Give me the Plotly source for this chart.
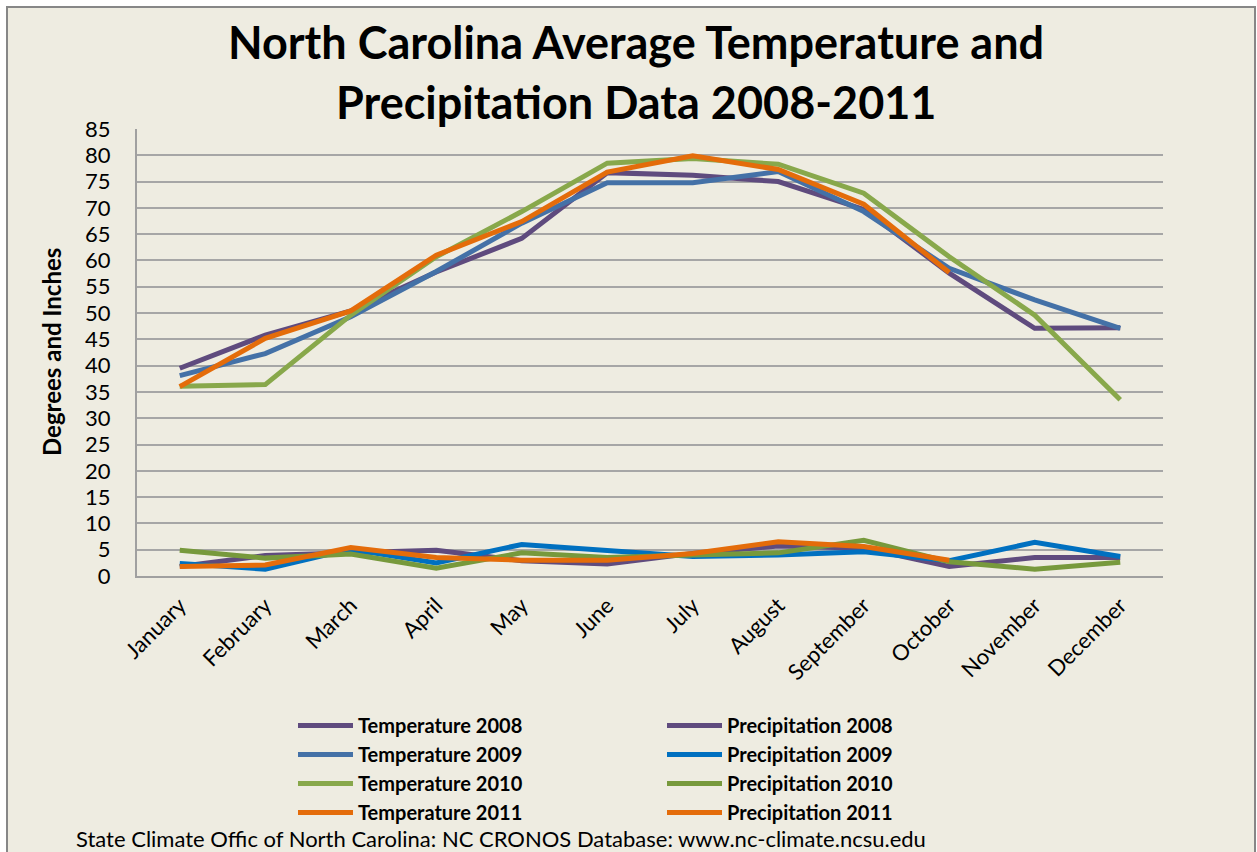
import plotly.graph_objects as go

months = ["January", "February", "March", "April", "May", "June", "July",
          "August", "September", "October", "November", "December"]

temp_2008 = [39.5, 45.8, 50.4, 57.8, 64.2, 76.7, 76.2, 75.0, 69.7, 57.6, 47.1, 47.2]
temp_2009 = [38.1, 42.3, 49.3, 57.9, 67.1, 74.8, 74.8, 76.9, 69.3, 58.5, 52.5, 47.1]
temp_2010 = [36.1, 36.4, 49.6, 60.7, 69.3, 78.5, 79.4, 78.3, 72.8, 60.7, 49.6, 33.5]
temp_2011 = [36.0, 45.2, 50.4, 61.0, 67.4, 76.8, 79.9, 77.3, 70.7, 57.7, None, None]

precip_2008 = [1.8, 3.9, 4.4, 4.9, 2.9, 2.3, 4.3, 5.7, 5.3, 1.8, 3.5, 3.5]
precip_2009 = [2.4, 1.3, 5.1, 2.5, 6.0, 4.75, 3.7, 4.0, 4.6, 2.9, 6.4, 3.7]
precip_2010 = [4.9, 3.4, 4.2, 1.5, 4.4, 3.5, 4.0, 4.4, 6.8, 2.7, 1.3, 2.6]
precip_2011 = [1.8, 2.1, 5.4, 3.5, 3.0, 3.0, 4.3, 6.5, 5.6, 3.0, None, None]

y_ticks = list(range(0, 90, 5))

series = [
    ("Temperature 2008", temp_2008, "#5F4B7E"),
    ("Precipitation 2008", precip_2008, "#5F4B7E"),
    ("Temperature 2009", temp_2009, "#4471A7"),
    ("Precipitation 2009", precip_2009, "#0070C0"),
    ("Temperature 2010", temp_2010, "#88A84B"),
    ("Precipitation 2010", precip_2010, "#77993C"),
    ("Temperature 2011", temp_2011, "#E46C0A"),
    ("Precipitation 2011", precip_2011, "#E46C0A"),
]

FONT = "Lato"
BEIGE = "#EEECE1"

fig = go.Figure()
for i, (name, vals, col) in enumerate(series):
    fig.add_trace(go.Scatter(
        x=months, y=vals, name=name, mode="lines",
        line=dict(color=col, width=5),
        connectgaps=False, legendrank=i + 1,
    ))

W, H = 1257, 852
L, R, T, B = 137, 1163, 129, 576
pw, ph = R - L, B - T

def px(x):
    return (x - L) / pw

def py(y):
    return (B - y) / ph

fig.update_layout(
    width=W, height=H,
    margin=dict(l=L, r=W - R, t=T, b=H - B),
    paper_bgcolor="white",
    plot_bgcolor="rgba(0,0,0,0)",
    font=dict(family=FONT, color="black"),
    showlegend=True,
    legend=dict(
        orientation="h",
        x=px(293), y=py(706), xanchor="left", yanchor="top",
        entrywidth=299, entrywidthmode="pixels",
        itemwidth=55,
        font=dict(family=FONT, size=20, color="black", weight="bold"),
        bgcolor="rgba(0,0,0,0)",
        tracegroupgap=0,
        traceorder="normal",
    ),
    xaxis=dict(
        type="category", range=[-0.5, 11.5],
        tickangle=-45, tickfont=dict(family=FONT, size=22, color="black"),
        ticklabelstandoff=6,
        showgrid=False, showline=True, linecolor="#A0A0A0", linewidth=2,
        ticks="", zeroline=False,
    ),
    yaxis=dict(
        range=[0, 85], tickvals=y_ticks,
        tickfont=dict(family=FONT, size=22, color="black"),
        ticklabelstandoff=20,
        showgrid=True, gridcolor="#A6A6A6", gridwidth=2,
        showline=True, linecolor="#A0A0A0", linewidth=2,
        zeroline=False, ticks="",
    ),
    shapes=[
        dict(type="rect", xref="paper", yref="paper", layer="below",
             x0=px(7), x1=px(1255), y0=py(880), y1=py(7),
             fillcolor=BEIGE, line=dict(color="#878787", width=2)),
    ],
    annotations=[
        dict(text="<b>North Carolina Average Temperature and</b>",
             xref="paper", yref="paper", x=px(636), y=py(42),
             xanchor="center", yanchor="middle", showarrow=False,
             font=dict(family=FONT, size=45, color="black")),
        dict(text="<b>Precipitation Data 2008-2011</b>",
             xref="paper", yref="paper", x=px(636), y=py(102),
             xanchor="center", yanchor="middle", showarrow=False,
             font=dict(family=FONT, size=45, color="black")),
        dict(text="<b>Degrees and Inches</b>",
             xref="paper", yref="paper", x=px(51), y=py(352),
             xanchor="center", yanchor="middle", showarrow=False, textangle=-90,
             font=dict(family=FONT, size=24, color="black")),
        dict(text="State Climate Offic of North Carolina: NC CRONOS Database: www.nc-climate.ncsu.edu",
             xref="paper", yref="paper", x=px(74), y=py(838),
             xanchor="left", yanchor="middle", showarrow=False,
             font=dict(family=FONT, size=22, color="black")),
    ],
)

fig.write_html("out.html", config={"displayModeBar": False},
               post_script="document.body.style.margin='0px';document.body.style.overflow='hidden';")
